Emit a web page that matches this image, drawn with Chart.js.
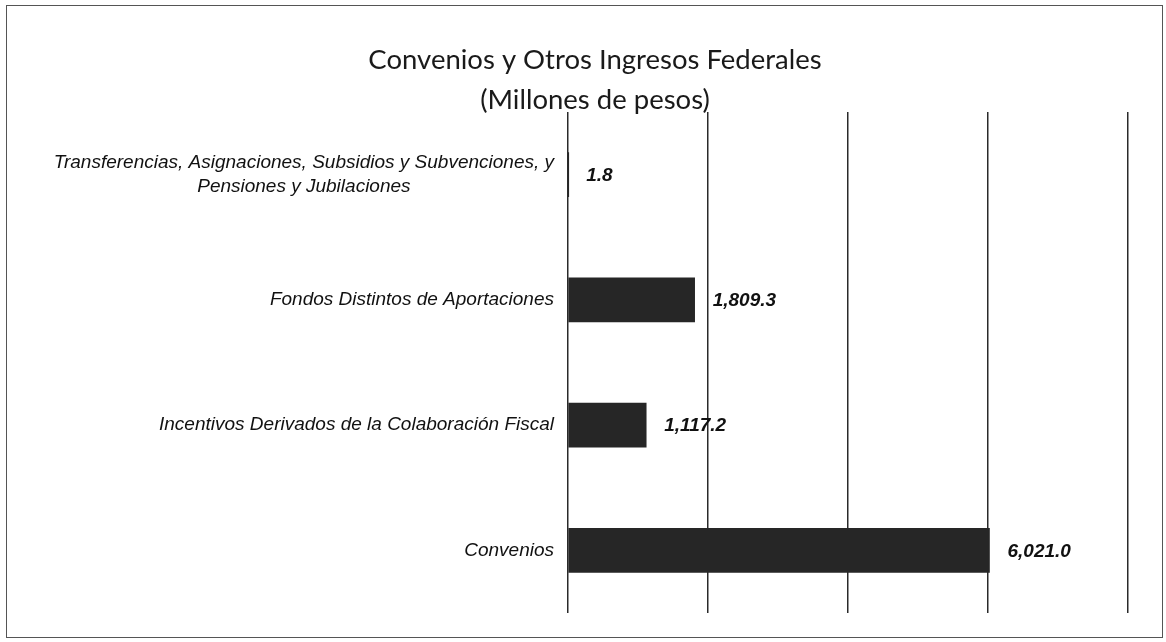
<!DOCTYPE html>
<html>
<head>
<meta charset="utf-8">
<script src="https://cdn.jsdelivr.net/npm/chart.js@4.4.1/dist/chart.umd.min.js"></script>
<style>
  html, body { margin: 0; padding: 0; background: #fff; }
  #wrap { position: relative; width: 1166px; height: 642px; }
  #frame { position: absolute; left: 6px; top: 5px; width: 1157px; height: 633px; border: 1.5px solid #555; box-sizing: border-box; pointer-events: none; }
</style>
</head>
<body>
<div id="wrap">
  <canvas id="chart" width="1166" height="642"></canvas>
  <div id="frame"></div>
</div>
<script>
// categories top to bottom
const categories = [
    ['Transferencias, Asignaciones, Subsidios y Subvenciones, y', 'Pensiones y Jubilaciones'],
    'Fondos Distintos de Aportaciones',
    'Incentivos Derivados de la Colaboración Fiscal',
    'Convenios'
];
const values = [1.8, 1809.3, 1117.2, 6021.0];
const xTicks = [0, 2000, 4000, 6000, 8000];
const titleLines = ['Convenios y Otros Ingresos Federales', '(Millones de pesos)'];

const labelFont = 'italic 19px "Liberation Sans", Arial, sans-serif';
const valueFont = 'italic bold 19px "Liberation Sans", Arial, sans-serif';

function fmt(v) {
    return v.toLocaleString('en-US', { minimumFractionDigits: 1, maximumFractionDigits: 1 });
}

// category names, right aligned next to the axis; second line centred under the first
const categoryLabels = {
    id: 'categoryLabels',
    afterDraw(chart) {
        const ctx = chart.ctx;
        const yScale = chart.scales.y;
        const right = chart.chartArea.left - 14;
        ctx.save();
        ctx.font = labelFont;
        ctx.fillStyle = '#111';
        ctx.textBaseline = 'middle';
        categories.forEach((cat, i) => {
            const y = yScale.getPixelForValue(i);
            if (Array.isArray(cat)) {
                const w = ctx.measureText(cat[0]).width;
                ctx.textAlign = 'right';
                ctx.fillText(cat[0], right, y - 12);
                ctx.textAlign = 'center';
                ctx.fillText(cat[1], right - w / 2, y + 12);
            } else {
                ctx.textAlign = 'right';
                ctx.fillText(cat, right, y);
            }
        });
        ctx.restore();
    }
};

const valueLabels = {
    id: 'valueLabels',
    afterDatasetsDraw(chart) {
        const ctx = chart.ctx;
        const meta = chart.getDatasetMeta(0);
        ctx.save();
        ctx.font = valueFont;
        ctx.fillStyle = '#111';
        ctx.textAlign = 'left';
        ctx.textBaseline = 'middle';
        meta.data.forEach((bar, i) => {
            ctx.fillText(fmt(values[i]), bar.x + 18, bar.y + 1);
        });
        ctx.restore();
    }
};

new Chart(document.getElementById('chart'), {
    type: 'bar',
    data: {
        labels: categories,
        datasets: [{
            data: values,
            backgroundColor: '#262626',
            borderWidth: 0,
            barThickness: 44
        }]
    },
    options: {
        indexAxis: 'y',
        responsive: false,
        animation: false,
        layout: { padding: { left: 24, right: 0, top: 0, bottom: 29 } },
        scales: {
            x: {
                min: 0,
                max: 8000,
                afterBuildTicks: s => { s.ticks = xTicks.map(v => ({ value: v })); },
                ticks: { display: false },
                grid: { color: '#2a2a2a', lineWidth: 1.5, drawTicks: false },
                border: { display: false }
            },
            y: {
                ticks: { display: false },
                grid: { display: false },
                border: { display: false },
                afterFit: s => { s.width = 544; }
            },
            yRight: {
                position: 'right',
                ticks: { display: false },
                grid: { display: false },
                border: { display: false },
                afterFit: s => { s.width = 38; }
            }
        },
        plugins: {
            legend: { display: false },
            tooltip: { enabled: false },
            title: {
                display: true,
                text: titleLines,
                color: '#1a1a1a',
                font: { family: 'Lato', size: 27.5, weight: 'normal', lineHeight: '40px' },
                padding: { top: 40, bottom: -8 }
            }
        }
    },
    plugins: [categoryLabels, valueLabels]
});
</script>
</body>
</html>
